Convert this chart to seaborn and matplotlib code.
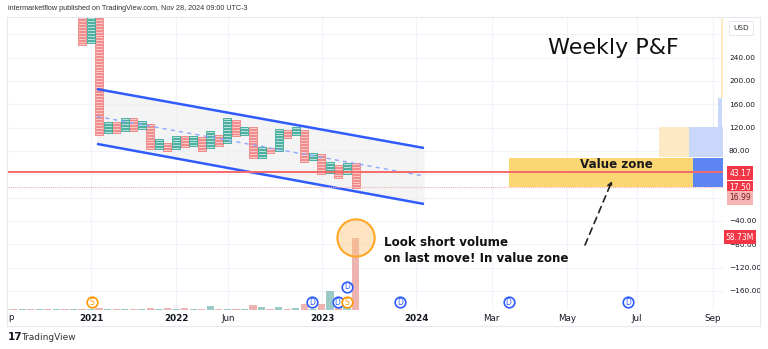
import numpy as np
import pandas as pd
import matplotlib
matplotlib.use("Agg")
import matplotlib.pyplot as plt
import seaborn as sns
from matplotlib.path import Path
from matplotlib.patches import Rectangle

# ---------------- data ----------------
# Point & Figure columns (index, top, bottom); even index = O column (down), odd = X column (up)
col_index = list(range(33))
col_top = [340, 335, 330, 130, 128, 139, 136, 131, 128, 100, 96, 107, 104, 107, 104, 114,
           110, 136, 132, 124, 121, 89, 86, 118, 115, 121, 118, 78, 76, 61, 59, 61, 59]
col_bottom = [260, 265, 107, 110, 110, 113, 113, 117, 82, 82, 79, 82, 86, 87, 79, 85,
              88, 93, 104, 107, 67, 67, 76, 79, 102, 107, 61, 63, 40, 42, 32, 40, 15]
box_size = 5

# volume per column (millions), columns -9 .. 32
vol_index = list(range(-9, 33))
vol_values = [0.7, 0.8, 0.7, 0.8, 0.8, 0.7, 0.9, 0.8, 0.9,
              1.0, 0.8, 1.6, 0.6, 0.6, 0.6, 0.8, 0.6, 1.6, 0.8, 1.6, 0.8, 1.6, 0.8, 0.8, 3.3,
              0.8, 1.2, 0.8, 0.8, 4.0, 2.4, 0.8, 2.4, 0.8, 1.6, 4.9, 0.8, 4.9, 15.5, 2.4, 3.3, 58.73]

# price axis
price_ticks = [280, 240, 200, 160, 120, 80, 40, 0, -40, -80, -120, -160]
price_labels = ["", "240.00", "200.00", "160.00", "120.00", "80.00", "", "",
                "\u221240.00", "\u221280.00", "\u2212120.00", "\u2212160.00"]

# time axis
time_pos = [1.05, 11.0, 17.1, 28.1, 39.1, 47.9, 56.7, 64.9, 73.8]
time_labels = ["2021", "2022", "Jun", "2023", "2024", "Mar", "May", "Jul", "Sep"]

# channel drawing (column index, price)
chan_x = [1.75, 40.0]
chan_upper = [186.0, 85.0]
chan_lower = [92.0, -11.0]

last_price = 43.17
low_price = 17.50

# dividends / splits markers (column index, volume-scale height)
div_x = [26.9, 29.9, 31.0, 37.2, 49.9, 63.9]
div_y = [6.5, 6.5, 18.8, 6.5, 6.5, 6.5]
split_x = [1.17, 31.0]
split_y = [6.5, 6.5]

# ---------------- figure ----------------
W, H = 768, 349
sns.set_theme(style="white")
plt.rcParams["font.family"] = ["DejaVu Sans"]

fig = plt.figure(figsize=(W / 100, H / 100), dpi=100)
fig.patch.set_facecolor("white")

L, R, T, B = 8, 723, 17, 310
rect = [L / W, 1 - B / H, (R - L) / W, (B - T) / H]
ax = fig.add_axes(rect)
axv = fig.add_axes(rect, sharex=ax)
axv.patch.set_visible(False)

XMIN, XMAX = (8 - 82) / 8.55, (723 - 82) / 8.55
YMIN, YMAX = -192.7, 309.5
ax.set_xlim(XMIN, XMAX)
ax.set_ylim(YMIN, YMAX)

# grid
for v in price_ticks:
    ax.axhline(v, color="#f0f3fa", lw=0.8, zorder=0)
for t in time_pos:
    ax.axvline(t, color="#f0f3fa", lw=0.8, zorder=0)

# channel
xs = np.array(chan_x)
ax.fill_between(xs, chan_lower, chan_upper, color="#ececec", alpha=0.55, lw=0, zorder=1)
ax.plot(xs, chan_upper, color="#2f5bff", lw=1.8, zorder=4, solid_capstyle="butt")
ax.plot(xs, chan_lower, color="#2f5bff", lw=1.8, zorder=4, solid_capstyle="butt")
mid = (np.array(chan_upper) + np.array(chan_lower)) / 2
ax.plot(xs, mid, color="#8fa8ff", lw=1.0, ls=(0, (3, 3)), zorder=4)

# P&F boxes
rows = []
for i, top, bot in zip(col_index, col_top, col_bottom):
    d = "down" if i % 2 == 0 else "up"
    for c in np.arange(bot + box_size / 2, top, box_size):
        rows.append({"col": i, "price": c, "dir": d})
boxes = pd.DataFrame(rows)
verts = [(-1, -0.38), (1, -0.38), (1, 0.38), (-1, 0.38), (-1, -0.38)]
box_marker = Path(verts, [Path.MOVETO, Path.LINETO, Path.LINETO, Path.LINETO, Path.CLOSEPOLY])
sns.scatterplot(data=boxes[boxes["dir"] == "down"], x="col", y="price", marker=box_marker,
                s=27, color="#f9c9c9", edgecolor="#ef7d7d", linewidth=0.6, ax=ax, zorder=3,
                legend=False)
sns.scatterplot(data=boxes[boxes["dir"] == "up"], x="col", y="price", marker=box_marker,
                s=27, color="#b6e2db", edgecolor="#34a593", linewidth=0.6, ax=ax, zorder=3,
                legend=False)

# value zone / volume profile blocks
def xr(px):
    return (px - 82) / 8.55

def yr(py):
    return (197.6 - py) * 1.714

ax.add_patch(Rectangle((xr(509), yr(187)), xr(693) - xr(509), yr(158) - yr(187),
                       fc="#fdd46c", ec="none", alpha=0.95, zorder=2))
ax.add_patch(Rectangle((xr(693), yr(187)), XMAX - xr(693), yr(158) - yr(187),
                       fc="#5d86f2", ec="none", zorder=2))
ax.add_patch(Rectangle((xr(659), yr(157)), xr(689) - xr(659), yr(127) - yr(157),
                       fc="#fde9c4", ec="none", zorder=2))
ax.add_patch(Rectangle((xr(689), yr(157)), XMAX - xr(689), yr(127) - yr(157),
                       fc="#c9d7fb", ec="none", zorder=2))
ax.add_patch(Rectangle((xr(718), yr(127)), xr(722) - xr(718), yr(98) - yr(127),
                       fc="#c9d7fb", ec="none", zorder=2))
ax.add_patch(Rectangle((xr(721.5), yr(98)), xr(723) - xr(721.5), YMAX - yr(98),
                       fc="#fde9c4", ec="none", zorder=2))
ax.text(xr(616), yr(165), "Value zone", ha="center", va="center", fontsize=8.6,
        fontweight="bold", color="#1a1a1a", zorder=6)

# price lines
ax.axhline(last_price, color="#f46a6a", lw=1.4, zorder=5)
ax.axhline(low_price, color="#f7b0b0", lw=0.8, ls=(0, (1, 1)), zorder=5)

# arrow
ax.annotate("", xy=(xr(612), yr(181)), xytext=(xr(585), yr(245)),
            arrowprops=dict(arrowstyle="->", color="#222222", lw=1.2, ls=(0, (4, 3)),
                            shrinkA=0, shrinkB=0, mutation_scale=7), zorder=6)

# axes styling
for s in ax.spines.values():
    s.set_visible(False)
axv.axis("off")
ax.yaxis.tick_right()
ax.set_yticks(price_ticks)
ax.set_yticklabels(price_labels)
ax.set_xticks(time_pos)
ax.set_xticklabels(time_labels)
ax.tick_params(axis="y", length=0, pad=4.3, labelsize=5.3, labelcolor="#131722")
ax.tick_params(axis="x", length=0, pad=3, labelsize=6.3, labelcolor="#131722")
for lab in ax.get_xticklabels():
    if lab.get_text().isdigit():
        lab.set_fontweight("bold")
ax.set_xlabel("")
ax.set_ylabel("")

# volume
VMAX = 58.73 * (B - T) / 72
vol = pd.DataFrame({"col": vol_index, "vol": vol_values,
                    "dir": ["down" if i % 2 == 0 else "up" for i in vol_index]})
sns.barplot(data=vol, x="col", y="vol", hue="dir", palette={"down": "#f7a9a7", "up": "#92d2cc"},
            native_scale=True, width=0.85, errorbar=None, legend=False, linewidth=0, ax=axv)
axv.set_xlim(XMIN, XMAX)
axv.set_ylim(0, VMAX)

# highlight circle on last volume
axv.scatter([32.05], [58.73], s=720, facecolor="#ffc57a", alpha=0.45, edgecolor="none", zorder=5)
axv.scatter([32.05], [58.73], s=720, facecolor="none", edgecolor="#ffa726", linewidth=1.5, zorder=6)

# dividends & splits
axv.scatter(div_x, div_y, s=58, facecolor="white", edgecolor="#2f5bff", linewidth=1.2, zorder=7)
for x, y in zip(div_x, div_y):
    axv.text(x, y, "D", ha="center", va="center", fontsize=5.5, color="#2f5bff", zorder=8)
axv.scatter(split_x, split_y, s=58, facecolor="white", edgecolor="#ff9800", linewidth=1.2, zorder=7)
for x, y in zip(split_x, split_y):
    axv.text(x, y, "S", ha="center", va="center", fontsize=5.5, color="#ff9800", zorder=8)

# ---------------- figure-level texts ----------------
def fx(px):
    return px / W

def fy(py):
    return 1 - py / H

fig.patches.append(Rectangle((fx(7), fy(326)), fx(760) - fx(7), fy(17) - fy(326),
                             transform=fig.transFigure, fill=False, ec="#e6e9ef", lw=0.8))
fig.text(fx(8), fy(9), "intermarketflow published on TradingView.com, Nov 28, 2024 09:00 UTC-3",
         fontsize=5.2, color="#333333", va="center", ha="left", family="Liberation Sans")
fig.text(fx(8), fy(318), "p", fontsize=6.3, color="#131722", va="center", ha="left")
fig.text(fx(613), fy(48), "Weekly P&F", fontsize=16, color="#111111", ha="center", va="center")
fig.text(fx(384), fy(243), "Look short volume", fontsize=8.6, color="#111111", ha="left",
         va="center", fontweight="semibold")
fig.text(fx(384), fy(258), "on last move! In value zone", fontsize=8.6, color="#111111",
         ha="left", va="center", fontweight="semibold")

# right axis badges
fig.text(fx(741), fy(28), "USD", fontsize=5.3, color="#333333", ha="center", va="center",
         bbox=dict(boxstyle="square,pad=0.6", fc="white", ec="#e0e3eb", lw=0.6))
for py, txt, fc, tc in [(173, "43.17", "#f23645", "white"), (188, "17.50", "#f23645", "white"),
                        (198, "16.99", "#f7b4b4", "#7a1a1a"), (237, "58.73M", "#f23645", "white")]:
    fig.text(fx(740), fy(py), txt, fontsize=5.5, color=tc, ha="center", va="center",
             bbox=dict(boxstyle="square,pad=0.3", fc=fc, ec="none"))

# TradingView logo
fig.text(fx(8), fy(337), "17", fontsize=7.5, fontweight="bold", color="#131722", ha="left", va="center")
fig.text(fx(21), fy(337), "TradingView", fontsize=6.5, color="#333333", ha="left", va="center")

fig.savefig("out.png", dpi=100, facecolor="white")
